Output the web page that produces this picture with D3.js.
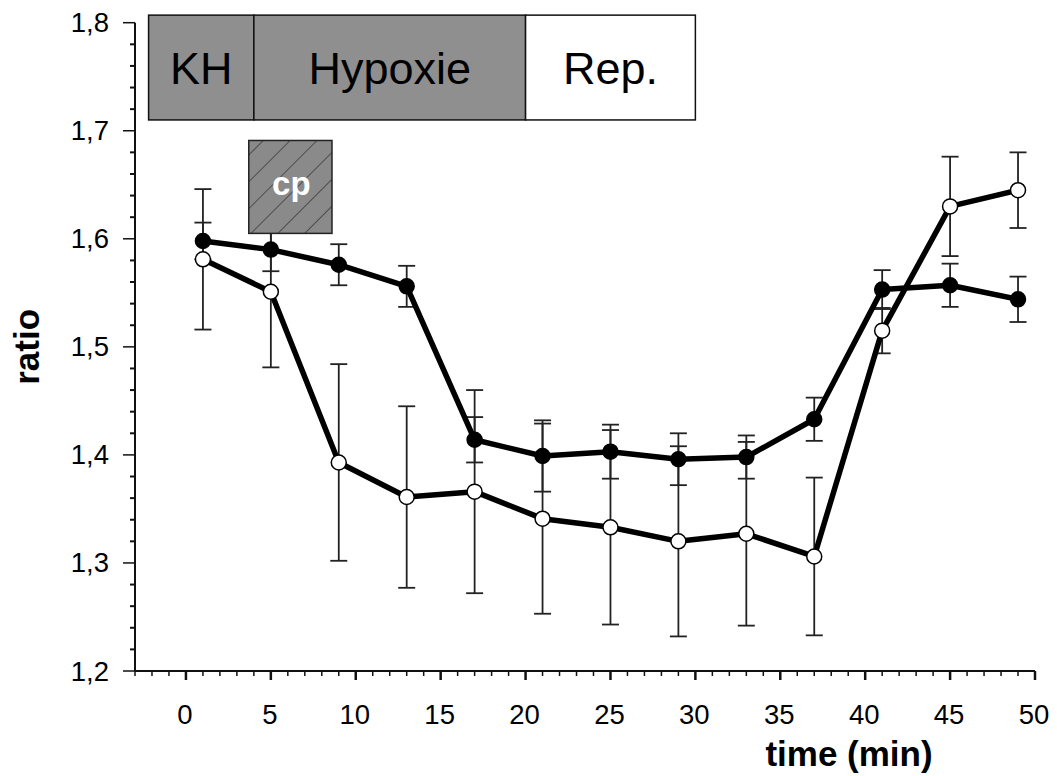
<!DOCTYPE html>
<html>
<head>
<meta charset="utf-8">
<script src="https://cdn.jsdelivr.net/npm/d3@7"></script>
<style>
  html, body { margin: 0; padding: 0; background: #fff; }
  svg { display: block; font-family: "Liberation Sans", Arial, sans-serif; }
</style>
</head>
<body>
<div id="chart"></div>
<script>
// ---------------------------------------------------------------------------
// data
// ---------------------------------------------------------------------------
const times = [1, 5, 9, 13, 17, 21, 25, 29, 33, 37, 41, 45, 49];

const filledMean = [1.598, 1.590, 1.576, 1.556, 1.414, 1.399, 1.403, 1.396, 1.398, 1.433, 1.553, 1.557, 1.544];
const filledErr  = [0.017, 0.020, 0.019, 0.019, 0.021, 0.033, 0.025, 0.024, 0.020, 0.020, 0.018, 0.020, 0.021];

const openMean = [1.581, 1.551, 1.393, 1.361, 1.366, 1.341, 1.333, 1.320, 1.327, 1.306, 1.515, 1.630, 1.645];
const openErr  = [0.065, 0.070, 0.091, 0.084, 0.094, 0.088, 0.090, 0.088, 0.085, 0.073, 0.021, 0.046, 0.035];

const phaseNames = ['KH', 'Hypoxie', 'Rep.'];
const phaseStart = [-2.2, 4, 20];
const phaseEnd   = [4, 20, 30];
const phaseFill  = ['#8f8f8f', '#8f8f8f', '#ffffff'];

const cpLabel = 'cp';
const cpRange = [3.7, 8.6];
const cpY = [1.605, 1.691];

const xTicks = [0, 5, 10, 15, 20, 25, 30, 35, 40, 45, 50];
const yTicks = [1.2, 1.3, 1.4, 1.5, 1.6, 1.7, 1.8];

// ---------------------------------------------------------------------------
const W = 1057, H = 776;
const svg = d3.select('#chart').append('svg').attr('width', W).attr('height', H);

const x = d3.scaleLinear().domain([-3, 50]).range([135, 1035]);
const y = d3.scaleLinear().domain([1.2, 1.8]).range([671, 22.7]);

const axisCol = '#111';

// y axis: line + minor / major ticks
svg.append('line')
  .attr('x1', x(-3)).attr('x2', x(-3))
  .attr('y1', y(1.2)).attr('y2', y(1.8))
  .attr('stroke', axisCol).attr('stroke-width', 2);

d3.range(0, 31).map(i => 1.2 + i * 0.02).forEach((v, i) => {
  const major = i % 5 === 0;
  svg.append('line')
    .attr('x1', x(-3)).attr('x2', x(-3) - (major ? 12 : 5))
    .attr('y1', y(v)).attr('y2', y(v))
    .attr('stroke', axisCol).attr('stroke-width', major ? 1.5 : 2);
});

svg.selectAll('.ylab').data(yTicks).join('text')
  .attr('class', 'ylab')
  .attr('x', 109).attr('y', d => y(d) + 9.5)
  .attr('text-anchor', 'end')
  .attr('font-size', '27.5px').attr('fill', '#000')
  .text(d => d3.format('.1f')(d).replace('.', ','));

// x axis
svg.append('line')
  .attr('x1', x(-3)).attr('x2', x(50))
  .attr('y1', y(1.2)).attr('y2', y(1.2))
  .attr('stroke', axisCol).attr('stroke-width', 2);

d3.range(-3, 51).forEach(v => {
  const major = v % 5 === 0;
  svg.append('line')
    .attr('x1', x(v)).attr('x2', x(v))
    .attr('y1', y(1.2)).attr('y2', y(1.2) + (major ? 9 : 5))
    .attr('stroke', axisCol).attr('stroke-width', major ? 2.5 : 1.5);
});

svg.selectAll('.xlab').data(xTicks).join('text')
  .attr('class', 'xlab')
  .attr('x', d => x(d) - 1).attr('y', 724)
  .attr('text-anchor', 'middle')
  .attr('font-size', '27.5px').attr('fill', '#000')
  .text(d => d);

// axis titles
svg.append('text')
  .attr('x', 849).attr('y', 766)
  .attr('text-anchor', 'middle')
  .attr('font-size', '35px').attr('font-weight', 'bold')
  .text('time (min)');

svg.append('text')
  .attr('transform', `translate(39, ${y(1.5)}) rotate(-90)`)
  .attr('text-anchor', 'middle')
  .attr('font-size', '35px').attr('font-weight', 'bold')
  .text('ratio');

// series drawing
function drawSeries(mean, err) {
  const g = svg.append('g');
  const capW = 8.5;
  times.forEach((t, i) => {
    const lo = y(mean[i] - err[i]), hi = y(mean[i] + err[i]);
    g.append('line')
      .attr('x1', x(t)).attr('x2', x(t)).attr('y1', lo).attr('y2', hi)
      .attr('stroke', '#222').attr('stroke-width', 1.8);
    [lo, hi].forEach(yy => g.append('line')
      .attr('x1', x(t) - capW).attr('x2', x(t) + capW).attr('y1', yy).attr('y2', yy)
      .attr('stroke', '#222').attr('stroke-width', 1.8));
  });
  return g;
}

function drawLine(mean, fill) {
  const g = svg.append('g');
  const line = d3.line().x((d, i) => x(times[i])).y(d => y(d));
  g.append('path').datum(mean)
    .attr('d', line).attr('fill', 'none')
    .attr('stroke', '#000').attr('stroke-width', 5.5)
    .attr('stroke-linejoin', 'round');
  g.selectAll('circle').data(mean).join('circle')
    .attr('cx', (d, i) => x(times[i])).attr('cy', d => y(d))
    .attr('r', 7.5)
    .attr('fill', fill).attr('stroke', '#000').attr('stroke-width', 1.5);
}

drawSeries(openMean, openErr);
drawSeries(filledMean, filledErr);
drawLine(openMean, '#fff');
drawLine(filledMean, '#000');

// cp box (hatched)
const defs = svg.append('defs');
const pat = defs.append('pattern')
  .attr('id', 'hatch').attr('patternUnits', 'userSpaceOnUse')
  .attr('width', 19).attr('height', 19)
  .attr('patternTransform', 'rotate(45)');
pat.append('rect').attr('width', 19).attr('height', 19).attr('fill', '#8a8a8a');
pat.append('line').attr('x1', 0).attr('x2', 0).attr('y1', 0).attr('y2', 19)
  .attr('stroke', '#222').attr('stroke-width', 1.2);

svg.append('rect')
  .attr('x', x(cpRange[0])).attr('y', y(cpY[1]))
  .attr('width', x(cpRange[1]) - x(cpRange[0]))
  .attr('height', y(cpY[0]) - y(cpY[1]))
  .attr('fill', 'url(#hatch)').attr('stroke', '#222').attr('stroke-width', 1.5);

svg.append('text')
  .attr('x', (x(cpRange[0]) + x(cpRange[1])) / 2 + 1).attr('y', 195)
  .attr('text-anchor', 'middle')
  .attr('font-size', '33px').attr('font-weight', 'bold').attr('fill', '#fff')
  .text(cpLabel);

// phase bar
const pTop = y(1.807), pBot = y(1.71);
phaseNames.forEach((name, i) => {
  svg.append('rect')
    .attr('x', x(phaseStart[i])).attr('y', pTop)
    .attr('width', x(phaseEnd[i]) - x(phaseStart[i]))
    .attr('height', pBot - pTop)
    .attr('fill', phaseFill[i]).attr('stroke', '#111').attr('stroke-width', 1.5);
  svg.append('text')
    .attr('x', (x(phaseStart[i]) + x(phaseEnd[i])) / 2).attr('y', (pTop + pBot) / 2 + 16)
    .attr('text-anchor', 'middle')
    .attr('font-size', '45px').attr('fill', '#000')
    .text(name);
});
</script>
</body>
</html>
